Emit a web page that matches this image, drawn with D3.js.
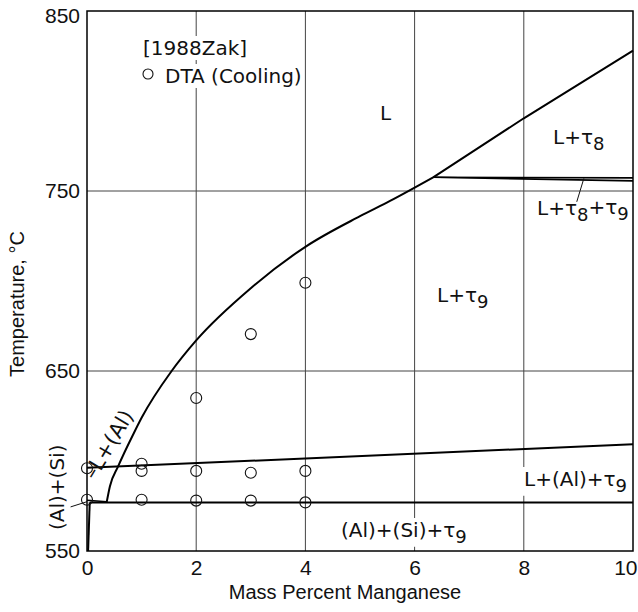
<!DOCTYPE html>
<html>
<head>
<meta charset="utf-8">
<script src="https://cdn.jsdelivr.net/npm/d3@7"></script>
<style>
  body { margin: 0; background: #fff; }
  svg { display: block; }
</style>
</head>
<body>
<div id="vis"></div>
<script>
// set constants
const FRAME_WIDTH = 638;
const FRAME_HEIGHT = 612;
const MARGINS = {left: 87, right: 5, top: 11, bottom: 61};

const VIS_WIDTH = FRAME_WIDTH - MARGINS.left - MARGINS.right;
const VIS_HEIGHT = FRAME_HEIGHT - MARGINS.top - MARGINS.bottom;

// axes
const X_TICKS = [0, 2, 4, 6, 8, 10];
const Y_TICKS = [550, 650, 750, 850];
const GRID_X = [2, 4, 6, 8];
const GRID_Y = [650, 750];

// liquidus of tau9 (mass % Mn, temperature)
const LIQ_TAU9_MN = [0.36, 0.42, 0.57, 0.85, 1.0, 1.55, 2, 3, 4, 5, 5.55, 6.34];
const LIQ_TAU9_T  = [577, 586, 597, 615, 624, 650, 667, 696, 719, 736, 744.5, 757.6];

// liquidus of tau8
const LIQ_TAU8_MN = [6.34, 8, 10];
const LIQ_TAU8_T  = [757.6, 790.4, 828];

// peritectic band L+tau8+tau9
const PERI_UPPER_MN = [6.34, 10];
const PERI_UPPER_T  = [757.6, 757.3];
const PERI_LOWER_MN = [6.34, 10];
const PERI_LOWER_T  = [757.6, 755.6];

// L + (Al) + tau9 boundary
const ALTAU_MN = [0, 10];
const ALTAU_T  = [596.2, 609.3];

// eutectic (Al)+(Si)+tau9
const EUT_MN = [0.05, 10];
const EUT_T  = [577, 577];
const EUT_LEFT_MN = [0, 0.36];
const EUT_LEFT_T  = [578.2, 577.4];

// (Al) solvus
const SOLVUS_MN = [0.02, 0.05];
const SOLVUS_T  = [550, 577];

// DTA cooling points [1988Zak]
const DTA_MN = [0, 0, 1, 1, 1, 2, 2, 2, 3, 3, 3, 4, 4, 4];
const DTA_T  = [596, 578.5, 598.5, 594.5, 578.5, 635, 594.5, 578, 670.5, 593.5, 578, 699, 594.5, 577];

const zip = (a, b) => a.map((v, i) => [v, b[i]]);

const FRAME = d3.select("#vis")
  .append("svg")
    .attr("width", FRAME_WIDTH)
    .attr("height", FRAME_HEIGHT);

const X_SCALE = d3.scaleLinear()
  .domain([0, 10])
  .range([MARGINS.left, MARGINS.left + VIS_WIDTH]);

const Y_SCALE = d3.scaleLinear()
  .domain([550, 850])
  .range([MARGINS.top + VIS_HEIGHT, MARGINS.top]);

const AXIS_FONT = "'Liberation Sans', Arial, sans-serif";
const LABEL_FONT = "'DejaVu Sans', sans-serif";

// grid lines
FRAME.append("g")
  .selectAll("line")
  .data(GRID_X)
  .enter()
  .append("line")
    .attr("x1", d => X_SCALE(d))
    .attr("x2", d => X_SCALE(d))
    .attr("y1", Y_SCALE(550))
    .attr("y2", Y_SCALE(850))
    .attr("stroke", "#444")
    .attr("stroke-width", 1);

FRAME.append("g")
  .selectAll("line")
  .data(GRID_Y)
  .enter()
  .append("line")
    .attr("x1", X_SCALE(0))
    .attr("x2", X_SCALE(10))
    .attr("y1", d => Y_SCALE(d))
    .attr("y2", d => Y_SCALE(d))
    .attr("stroke", "#444")
    .attr("stroke-width", 1);

// tick labels
const xAxis = FRAME.append("g")
  .attr("transform", "translate(0," + Y_SCALE(550) + ")")
  .call(d3.axisBottom(X_SCALE).tickValues(X_TICKS).tickSize(0).tickPadding(9));
xAxis.select(".domain").remove();
xAxis.selectAll("text")
  .attr("font-family", AXIS_FONT)
  .attr("font-size", 21)
  .attr("fill", "#111");
// last label sits against the right edge, as in the source
xAxis.selectAll("text")
  .filter(d => d === 10)
  .attr("text-anchor", "end")
  .attr("x", FRAME_WIDTH - 1 - X_SCALE(10));

const yAxis = FRAME.append("g")
  .attr("transform", "translate(" + X_SCALE(0) + ",0)")
  .call(d3.axisLeft(Y_SCALE).tickValues(Y_TICKS).tickSize(0).tickPadding(7));
yAxis.select(".domain").remove();
yAxis.selectAll("text")
  .attr("font-family", AXIS_FONT)
  .attr("font-size", 21)
  .attr("fill", "#111")
  .attr("dy", d => d === 850 ? "0.55em" : "0.32em");

// axis titles
FRAME.append("text")
  .attr("x", 345)
  .attr("y", 599)
  .attr("text-anchor", "middle")
  .attr("font-family", AXIS_FONT)
  .attr("font-size", 20)
  .attr("fill", "#111")
  .text("Mass Percent Manganese");

FRAME.append("text")
  .attr("transform", "translate(24,304) rotate(-90)")
  .attr("text-anchor", "middle")
  .attr("font-family", AXIS_FONT)
  .attr("font-size", 20)
  .attr("fill", "#111")
  .text("Temperature, °C");

// labels with white boxes that hide the grid
function addLabel(x, y, parts, rotate, size) {
  const fs = size || 20;
  const g = FRAME.append("g")
    .attr("transform", "translate(" + x + "," + y + ")" + (rotate ? " rotate(" + rotate + ")" : ""));
  const bg = g.append("rect").attr("fill", "#fff");
  const t = g.append("text")
    .attr("font-family", LABEL_FONT)
    .attr("font-size", fs)
    .attr("fill", "#111");
  let sub = false;
  parts.forEach(p => {
    const isSub = typeof p === "number";
    const span = t.append("tspan").text(String(p));
    if (isSub && !sub) span.attr("dy", "0.32em").attr("font-size", fs - 2);
    if (!isSub && sub) span.attr("dy", "-0.32em");
    sub = isSub;
  });
  const b = t.node().getBBox();
  bg.attr("x", b.x - 1).attr("y", b.y).attr("width", b.width + 2).attr("height", b.height);
  return g;
}

addLabel(143, 55, ["[1988Zak]"]);
addLabel(165, 83, ["DTA  (Cooling)"]);
addLabel(380, 120, ["L"]);
addLabel(553, 144, ["L+τ", 8]);
addLabel(537, 215, ["L+τ", 8, "+τ", 9]);
addLabel(437, 302, ["L+τ", 9]);
addLabel(524, 486, ["L+(Al)+τ", 9]);
addLabel(341, 537, ["(Al)+(Si)+τ", 9]);
addLabel(64, 530, ["(Al)+(Si)"], -90);

// phase boundaries
const line = d3.line()
  .x(d => X_SCALE(d[0]))
  .y(d => Y_SCALE(d[1]));

const curve = d3.line()
  .x(d => X_SCALE(d[0]))
  .y(d => Y_SCALE(d[1]))
  .curve(d3.curveMonotoneX);

const BOUNDS = FRAME.append("g")
  .attr("fill", "none")
  .attr("stroke", "#000")
  .attr("stroke-width", 2);

BOUNDS.append("path").attr("d", curve(zip(LIQ_TAU9_MN, LIQ_TAU9_T)));
BOUNDS.append("path").attr("d", line(zip(LIQ_TAU8_MN, LIQ_TAU8_T)));
BOUNDS.append("path").attr("d", line(zip(PERI_UPPER_MN, PERI_UPPER_T))).attr("stroke-width", 1.6);
BOUNDS.append("path").attr("d", line(zip(PERI_LOWER_MN, PERI_LOWER_T))).attr("stroke-width", 1.6);
BOUNDS.append("path").attr("d", line(zip(ALTAU_MN, ALTAU_T)));
BOUNDS.append("path").attr("d", line(zip(EUT_MN, EUT_T)));
BOUNDS.append("path").attr("d", line(zip(EUT_LEFT_MN, EUT_LEFT_T))).attr("stroke-width", 1.5);
BOUNDS.append("path").attr("d", line(zip(SOLVUS_MN, SOLVUS_T)));

// rotated label along the lower liquidus, kept clear of the curve
const lal = FRAME.append("text")
  .attr("transform", "translate(95,481) rotate(-59)")
  .attr("font-family", LABEL_FONT)
  .attr("font-size", 21)
  .attr("fill", "#111")
  .text("–L+(Al)");

// legend marker
FRAME.append("circle")
  .attr("cx", 148)
  .attr("cy", 74)
  .attr("r", 5)
  .attr("fill", "none")
  .attr("stroke", "#111")
  .attr("stroke-width", 1.1);

// leader lines
const LEADERS = FRAME.append("g")
  .attr("stroke", "#111")
  .attr("stroke-width", 1);
LEADERS.append("line")
  .attr("x1", X_SCALE(9.1)).attr("y1", Y_SCALE(757))
  .attr("x2", X_SCALE(8.97)).attr("y2", Y_SCALE(744));
LEADERS.append("line")
  .attr("x1", X_SCALE(-0.3)).attr("y1", Y_SCALE(574.5))
  .attr("x2", X_SCALE(0.0)).attr("y2", Y_SCALE(577.4));

// frame
FRAME.append("rect")
  .attr("x", X_SCALE(0))
  .attr("y", Y_SCALE(850))
  .attr("width", X_SCALE(10) - X_SCALE(0))
  .attr("height", Y_SCALE(550) - Y_SCALE(850))
  .attr("fill", "none")
  .attr("stroke", "#000")
  .attr("stroke-width", 1.5);

// DTA points
FRAME.append("g")
  .selectAll("circle")
  .data(zip(DTA_MN, DTA_T))
  .enter()
  .append("circle")
    .attr("cx", d => X_SCALE(d[0]))
    .attr("cy", d => Y_SCALE(d[1]))
    .attr("r", 5.5)
    .attr("fill", "none")
    .attr("stroke", "#111")
    .attr("stroke-width", 1.1);
</script>
</body>
</html>
